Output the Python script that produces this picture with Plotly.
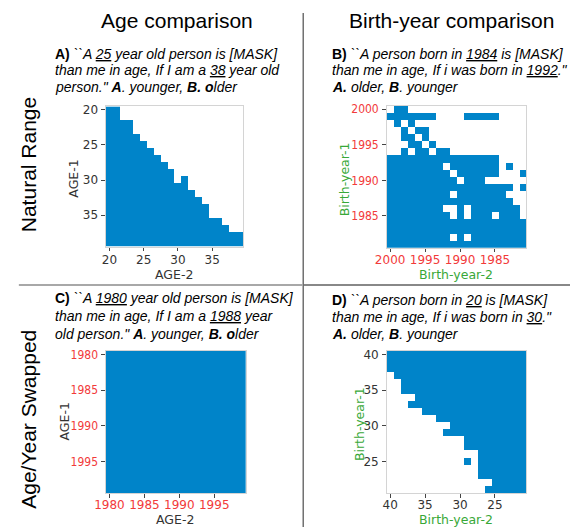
import plotly.graph_objects as go

# ---------------- data ----------------
age_vals = list(range(20, 40))                 # panel A axes (AGE-1 rows, AGE-2 cols)
year_vals_desc = list(range(2000, 1980, -1))   # panel B axes (2000 .. 1981)
year_vals_asc = list(range(1980, 2000))        # panel C axes (1980 .. 1999)
num_vals_desc = list(range(40, 20, -1))        # panel D axes (40 .. 21)

tick_a = [20, 25, 30, 35]
tick_b = [2000, 1995, 1990, 1985]
tick_c = [1980, 1985, 1990, 1995]
tick_d = [40, 35, 30, 25]

# 1 = answer flagged (blue), 0 = not (white); rows follow the y lists, columns the x lists
grid_a = [
    "11000000000000000000",
    "11000000000000000000",
    "11110000000000000000",
    "11110000000000000000",
    "11111000000000000000",
    "11111100000000000000",
    "11111110000000000000",
    "11111111000000000000",
    "11111111100000000000",
    "11111111110000000000",
    "11111111110100000000",
    "11111111111100000000",
    "11111111111110000000",
    "11111111111111000000",
    "11111111111111100000",
    "11111111111111100000",
    "11111111111111111000",
    "11111111111111111100",
    "11111111111111111111",
    "11111111111111111111",
]
grid_b = [
    "01100000000000000000",
    "11111110000111110000",
    "01010000000000000000",
    "00101100000000000000",
    "00110100000000000000",
    "00011010000000000000",
    "00101101100000000000",
    "11111111111111110000",
    "11111111011111110100",
    "11111111101111110001",
    "11111111110111000000",
    "11111111111111111101",
    "11111111101111111000",
    "11111111111111111100",
    "11111111001011111110",
    "11111111101011101110",
    "11111111111111111111",
    "11111111111111111111",
    "11111111101011111111",
    "11111111111111111111",
]
grid_c = ["11111111111111111111"] * 20
grid_d = [
    "11111111111111111111",
    "11111111111111111111",
    "11111111111111111111",
    "01111111111111111111",
    "00111111111111111111",
    "00111111111111111111",
    "00001111111111111111",
    "00011111111111111111",
    "00000111111111111111",
    "00000001111111111111",
    "00000000011111111111",
    "00000000111111111111",
    "00000000000111111111",
    "00000000000111111111",
    "00000000000001111111",
    "00000000000101111111",
    "00000000000001111111",
    "00000000000001111111",
    "00000000000000011111",
    "00000000000000111111",
]

def to_z(rows):
    return [[int(c) for c in r] for r in rows]

# ---------------- styling ----------------
W, H = 570, 527
BLUE = "#0084c9"
RED = "#f23a3a"
GREEN = "#38a838"
DARK = "#333333"
TICKFONT = "DejaVu Sans"
NARROW = "Liberation Sans Narrow, DejaVu Sans Condensed, DejaVu Sans"
TXT = "Liberation Sans, Arial, sans-serif"

def px_x(x):
    return x / W

def px_y(y):
    return 1 - y / H

fig = go.Figure()
cs = [[0, "#ffffff"], [1, BLUE]]

panels = [
    (age_vals, age_vals, grid_a, ""),
    (year_vals_desc, year_vals_desc, grid_b, "2"),
    (year_vals_asc, year_vals_asc, grid_c, "3"),
    (num_vals_desc, num_vals_desc, grid_d, "4"),
]
for xs, ys, g, s in panels:
    fig.add_trace(go.Heatmap(
        x=xs, y=ys, z=to_z(g), colorscale=cs, zmin=0, zmax=1,
        showscale=False, xaxis="x" + s, yaxis="y" + s, hoverinfo="skip"))

def axis(domain, rng, ticks, color, family, anchor, standoff=0):
    return dict(domain=domain, range=rng, tickmode="array", tickvals=ticks,
                ticks="outside", ticklen=3.5, tickwidth=1, tickcolor="#444",
                tickfont=dict(family=family, size=12, color=color),
                ticklabelstandoff=standoff,
                showgrid=False, zeroline=False, showline=True, mirror=True,
                linecolor="#d4d4d4", linewidth=1, anchor=anchor, fixedrange=True)

xa = [px_x(96), px_x(236)]
xb = [px_x(382.7), px_x(525.5)]
xc = [px_x(96), px_x(238.7)]
ya = [px_y(245), px_y(104)]
yb = [px_y(246.4), px_y(103.3)]
yc = [px_y(493.3), px_y(350)]

fig.update_layout(
    xaxis=axis(xa, [19.5, 39.5], tick_a, DARK, TICKFONT, "y", -2),
    yaxis=axis(ya, [39.5, 19.5], tick_a, DARK, TICKFONT, "x", 1),
    xaxis2=axis(xb, [2000.5, 1980.5], tick_b, RED, TICKFONT, "y2", -3),
    yaxis2=axis(yb, [1980.5, 2000.5], tick_b, RED, NARROW, "x2", 1),
    xaxis3=axis(xc, [1979.5, 1999.5], tick_c, RED, TICKFONT, "y3", -3),
    yaxis3=axis(yc, [1999.5, 1979.5], tick_c, RED, NARROW, "x3", 1),
    xaxis4=axis(xb, [40.5, 20.5], tick_d, DARK, TICKFONT, "y4", -3),
    yaxis4=axis(yc, [20.5, 40.5], tick_d, DARK, TICKFONT, "x4", 1),
)

ann = []

def add_text(text, x, y, size, color="black", family=TXT, angle=0, xanchor="center"):
    ann.append(dict(text=text, x=px_x(x), y=px_y(y), xref="paper", yref="paper",
                    showarrow=False, xanchor=xanchor, yanchor="middle",
                    textangle=angle, font=dict(family=family, size=size, color=color)))

add_text("Age comparison", 169, 18, 21)
add_text("Birth-year comparison", 449, 18, 21)
add_text("Natural Range", 16.5, 163, 21, angle=-90)
add_text("Age/Year Swapped", 16.5, 419, 21, angle=-90)

cap_a = [
    "<b>A)</b> <i>``A <u>25</u> year old person is [MASK]</i>",
    "<i>than me in age, If I am a <u>38</u> year old</i>",
    "<i>person.\" </i><b><i>A</i></b><i>. younger, </i><b><i>B. o</i></b><i>lder</i>",
]
cap_b = [
    "<b>B)</b> <i>``A person born in <u>1984</u> is [MASK]</i>",
    "<i>than me in age, If i was born in <u>1992</u>.\"</i>",
    "<b><i>A.</i></b><i> older, </i><b><i>B</i></b><i>. younger</i>",
]
cap_c = [
    "<b>C)</b> <i>``A <u>1980</u> year old person is [MASK]</i>",
    "<i>than me in age, If I am a <u>1988</u> year</i>",
    "<i>old person.\" </i><b><i>A</i></b><i>. younger, </i><b><i>B. o</i></b><i>lder</i>",
]
cap_d = [
    "<b>D)</b> <i>``A person born in <u>20</u> is [MASK]</i>",
    "<i>than me in age, If i was born in <u>30</u>.\"</i>",
    "<b><i>A.</i></b><i> older, </i><b><i>B</i></b><i>. younger</i>",
]
for lines, x0, ys in [(cap_a, 41.7, [51, 67.5, 84]), (cap_b, 325, [51, 67.5, 84]),
                      (cap_c, 41.7, [297, 315, 332.5]), (cap_d, 325, [299, 316, 333])]:
    for t, yy in zip(lines, ys):
        add_text(t, x0, yy, 14, xanchor="left")

add_text("AGE-1", 63, 177, 12.5, DARK, TICKFONT, -90)
add_text("AGE-2", 165, 273, 12.5, DARK, TICKFONT)
add_text("Birth-year-1", 340.5, 177, 12.5, GREEN, TICKFONT, -90)
add_text("Birth-year-2", 454, 273, 12.5, GREEN, TICKFONT)
add_text("AGE-1", 54, 421, 12.5, DARK, TICKFONT, -90)
add_text("AGE-2", 167, 519, 12.5, DARK, TICKFONT)
add_text("Birth-year-1", 355, 424, 12.5, GREEN, TICKFONT, -90)
add_text("Birth-year-2", 454, 519, 12.5, GREEN, TICKFONT)

shapes = [
    dict(type="line", xref="paper", yref="paper", x0=px_x(297.5), x1=px_x(297.5),
         y0=px_y(10), y1=0, line=dict(color="#707070", width=1.5)),
    dict(type="line", xref="paper", yref="paper", x0=px_x(7), x1=px_x(297.5),
         y0=px_y(283.5), y1=px_y(283.5), line=dict(color="#a8a8a8", width=2)),
    dict(type="line", xref="paper", yref="paper", x0=px_x(297.5), x1=1,
         y0=px_y(283.5), y1=px_y(283.5), line=dict(color="#606060", width=1.5)),
]

fig.update_layout(
    width=W, height=H, margin=dict(l=0, r=0, t=0, b=0),
    paper_bgcolor="white", plot_bgcolor="white",
    annotations=ann, shapes=shapes, showlegend=False,
)

fig.write_html("out.html", config={"displayModeBar": False},
               post_script="document.body.style.margin='0';document.body.style.padding='0';")
